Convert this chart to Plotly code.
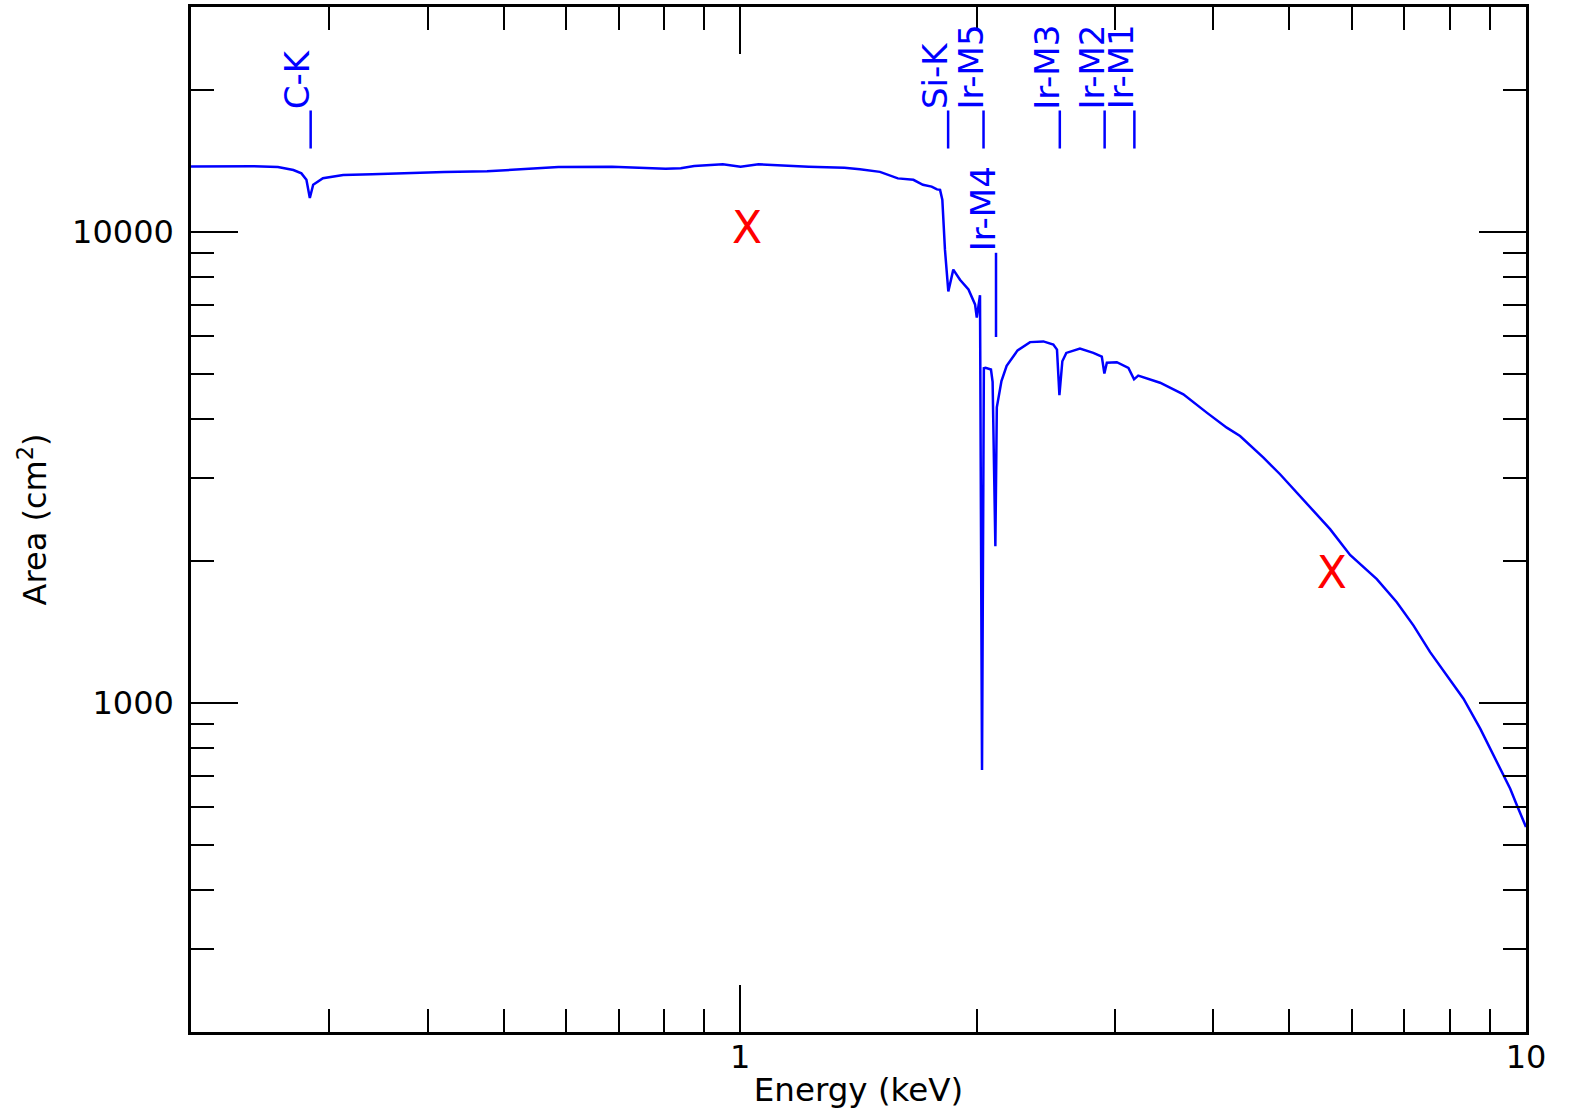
import math
import plotly.graph_objects as go

# ---- data: effective area curve (keV, cm^2) ----
energy = [0.200, 0.240, 0.258, 0.270, 0.2764, 0.2805, 0.2833, 0.2861, 0.2944, 0.3124,
          0.3400, 0.3700, 0.4200, 0.4762, 0.5300, 0.5870, 0.6868, 0.7500, 0.8036, 0.8400,
          0.8739, 0.9502, 1.001, 1.055, 1.150, 1.222, 1.357, 1.420, 1.506, 1.560,
          1.587, 1.661, 1.708, 1.752, 1.780, 1.796, 1.808, 1.822, 1.840, 1.867,
          1.904, 1.952, 1.990, 2.000, 2.019, 2.031, 2.042, 2.052, 2.085, 2.095,
          2.112, 2.121, 2.150, 2.183, 2.254, 2.338, 2.431, 2.503, 2.530, 2.548,
          2.570, 2.600, 2.706, 2.814, 2.885, 2.907, 2.928, 3.015, 3.119, 3.171,
          3.210, 3.422, 3.664, 3.924, 4.161, 4.326, 4.633, 4.864, 5.110, 5.364,
          5.632, 5.972, 6.459, 6.848, 7.193, 7.551, 7.852, 8.166, 8.326, 8.745,
          9.273, 9.548, 9.737, 10.0]
area = [13750, 13780, 13720, 13520, 13300, 12890, 11790, 12580, 12990, 13200,
        13250, 13320, 13390, 13440, 13600, 13720, 13740, 13680, 13600, 13640,
        13790, 13910, 13740, 13910, 13800, 13740, 13670, 13580, 13400, 13100,
        12980, 12890, 12580, 12470, 12300, 12270, 11690, 9160, 7470, 8310,
        7910, 7540, 7010, 6570, 7330, 720, 5130, 5140, 5100, 4800,
        2150, 4240, 4820, 5190, 5600, 5830, 5850, 5760, 5620, 4500,
        5310, 5530, 5650, 5530, 5430, 5000, 5270, 5285, 5140, 4860,
        4950, 4780, 4517, 4130, 3838, 3685, 3315, 3056, 2795, 2555,
        2337, 2060, 1830, 1635, 1458, 1281, 1171, 1071, 1020, 881,
        725, 657, 606, 545]

# ---- edge identifications ----
edge_labels = ["C-K", "Si-K", "Ir-M5", "Ir-M4", "Ir-M3", "Ir-M2", "Ir-M1"]
edge_energy = [0.284, 1.839, 2.040, 2.116, 2.551, 2.909, 3.174]
edge_top = [18090, 18090, 18090, 9022, 18090, 18090, 18090]
edge_bottom = [15020, 15020, 15020, 5977, 15020, 15020, 15020]

# ---- red crosses ----
cross_x = [1.02, 5.66]
cross_y = [10000, 1850]

x_range = [0.2, 10]
y_range = [200, 30000]

BLUE = "#0000ff"
FONT = "DejaVu Sans"

fig = go.Figure()

fig.add_trace(go.Scatter(x=energy, y=area, mode="lines",
                         line=dict(color=BLUE, width=2.5), hoverinfo="skip"))

mx, my = [], []
for e, t, b in zip(edge_energy, edge_top, edge_bottom):
    mx += [e, e, None]
    my += [t, b, None]
fig.add_trace(go.Scatter(x=mx, y=my, mode="lines",
                         line=dict(color=BLUE, width=2.5), hoverinfo="skip"))

fig.add_trace(go.Scatter(x=cross_x, y=cross_y, mode="text", text=["X"] * len(cross_x),
                         textposition="middle center",
                         textfont=dict(family=FONT, size=44, color="#ff0000"),
                         hoverinfo="skip"))

for lab, e, t in zip(edge_labels, edge_energy, edge_top):
    fig.add_annotation(x=math.log10(e), y=math.log10(t), text=lab, textangle=-90,
                       showarrow=False, xanchor="right", yanchor="bottom",
                       xshift=8, yshift=0, borderpad=0,
                       font=dict(family=FONT, size=34, color=BLUE))

axis_common = dict(
    type="log", showline=True, linecolor="black", linewidth=2.5, mirror="allticks",
    ticks="inside", ticklen=47, tickwidth=2, tickcolor="black", dtick=1,
    tickformat="d", showgrid=False, zeroline=False, automargin=False,
    minor=dict(ticks="inside", ticklen=23, tickwidth=2, tickcolor="black",
               dtick="D1", showgrid=False),
    tickfont=dict(family=FONT, size=32, color="black"),
)

fig.update_xaxes(**axis_common, range=[math.log10(x_range[0]), math.log10(x_range[1])],
                 ticklabelstandoff=-5,
                 title=dict(text="Energy (keV)", font=dict(family=FONT, size=32.5, color="black"),
                            standoff=8))
fig.update_yaxes(**axis_common, range=[math.log10(y_range[0]), math.log10(y_range[1])],
                 ticklabelstandoff=8,
                 title=dict(text="Area (cm<sup>2</sup>)", font=dict(family=FONT, size=32, color="black"),
                            standoff=16))

fig.update_layout(width=1575, height=1109, margin=dict(l=191, r=49, t=7, b=77),
                  plot_bgcolor="white", paper_bgcolor="white", showlegend=False,
                  font=dict(family=FONT, color="black"))

fig.write_html("out.html")
